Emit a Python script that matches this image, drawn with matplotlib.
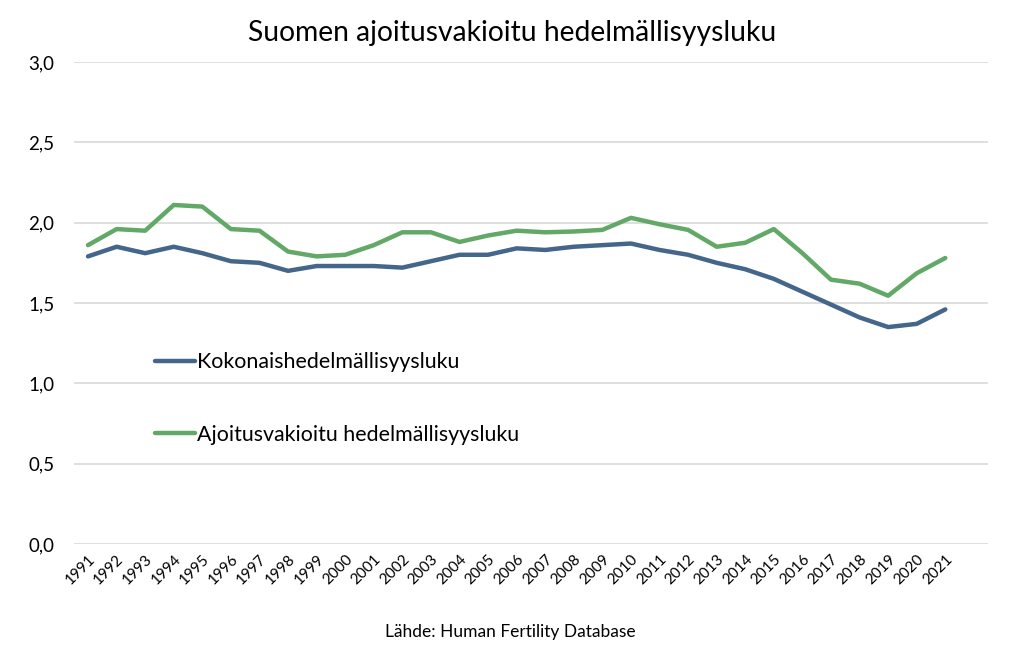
import matplotlib
matplotlib.use("Agg")
import matplotlib.pyplot as plt
from matplotlib.ticker import FuncFormatter

plt.rcParams['font.family'] = ['Lato', 'DejaVu Sans']

years = [str(y) for y in range(1991, 2022)]
kokonais = [1.79, 1.85, 1.81, 1.85, 1.81, 1.76, 1.75, 1.70, 1.73, 1.73,
            1.73, 1.72, 1.76, 1.80, 1.80, 1.84, 1.83, 1.85, 1.86, 1.87,
            1.83, 1.80, 1.75, 1.71, 1.65, 1.57, 1.49, 1.41, 1.35, 1.37, 1.46]
ajoitus = [1.86, 1.96, 1.95, 2.11, 2.10, 1.96, 1.95, 1.82, 1.79, 1.80,
           1.86, 1.94, 1.94, 1.88, 1.92, 1.95, 1.94, 1.945, 1.955, 2.03,
           1.99, 1.955, 1.85, 1.875, 1.96, 1.81, 1.645, 1.62, 1.545, 1.685, 1.78]

fig = plt.figure(figsize=(10.24, 6.46), dpi=100)
ax = fig.add_axes([0.072, 0.158, 0.893, 0.746])

x = list(range(len(years)))
ax.plot(x, kokonais, color='#44668a', lw=3.2, label='Kokonaishedelmällisyysluku',
        solid_capstyle='round', solid_joinstyle='round')
ax.plot(x, ajoitus, color='#62a866', lw=3.2, label='Ajoitusvakioitu hedelmällisyysluku',
        solid_capstyle='round', solid_joinstyle='round')

ax.set_xlim(-0.5, len(years) + 0.5)
ax.set_ylim(0, 3.0)
ax.set_yticks([0, 0.5, 1.0, 1.5, 2.0, 2.5, 3.0])
ax.yaxis.set_major_formatter(FuncFormatter(lambda v, p: f"{v:.1f}".replace('.', ',')))
ax.set_xticks(x)
ax.set_xticklabels(years, rotation=45, ha='right', rotation_mode='anchor', fontsize=11)
ax.tick_params(axis='y', labelsize=13.5, length=0, pad=14)
ax.tick_params(axis='x', length=0, pad=6)
ax.grid(axis='y', color='#d9d9d9', lw=1.2)
ax.set_axisbelow(True)
for s in ax.spines.values():
    s.set_visible(False)

ax.legend(loc='center left', bbox_to_anchor=(0.089, 0.302), frameon=False,
          fontsize=15.4, handlelength=1.85, handletextpad=0.1, labelspacing=2.45,
          borderpad=0, borderaxespad=0)

fig.text(0.5, 0.949, 'Suomen ajoitusvakioitu hedelmällisyysluku', ha='center', va='center', fontsize=20.3)
fig.text(0.498, 0.022, 'Lähde: Human Fertility Database', ha='center', va='center', fontsize=12.5)

fig.savefig('out.png', dpi=100)
